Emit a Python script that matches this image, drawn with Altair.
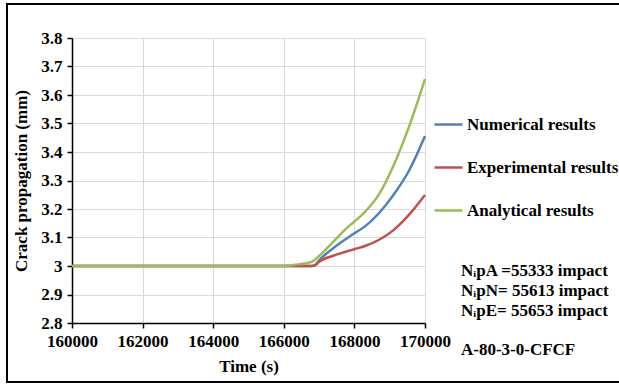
import altair as alt
import pandas as pd

time_s = [160000, 166000, 166300, 166800, 166880, 167000, 167400, 167730, 168000, 168300, 168700, 169100, 169550, 170000]
numerical = [3.0, 3.0, 3.0, 3.0, 3.003, 3.02, 3.062, 3.092, 3.115, 3.139, 3.186, 3.248, 3.335, 3.456]
experimental = [3.0, 3.0, 3.0, 3.0, 3.002, 3.015, 3.036, 3.049, 3.059, 3.07, 3.092, 3.125, 3.18, 3.249]
analytical = [3.0, 3.0, 3.004, 3.015, 3.022, 3.035, 3.085, 3.127, 3.156, 3.19, 3.252, 3.35, 3.49, 3.656]

series_names = ["Numerical results", "Experimental results", "Analytical results"]
series_colors = ["#4F81BD", "#C0504D", "#9BBB59"]

x_ticks = [160000, 162000, 164000, 166000, 168000, 170000]
y_ticks = [2.8, 2.9, 3.0, 3.1, 3.2, 3.3, 3.4, 3.5, 3.6, 3.7, 3.8]

notes = ["N\u1d62pA =55333 impact", "N\u1d62pN= 55613 impact", "N\u1d62pE= 55653 impact"]
specimen = "A-80-3-0-CFCF"

rows = []
for name, vals in zip(series_names, [numerical, experimental, analytical]):
    for t, v in zip(time_s, vals):
        rows.append({"Time": t, "Crack": v, "Series": name})
df = pd.DataFrame(rows)

FONT = "Liberation Serif, Times New Roman, DejaVu Serif, serif"

lines = alt.Chart(df).mark_line(strokeWidth=2.5, interpolate="monotone").encode(
    x=alt.X("Time:Q", scale=alt.Scale(domain=[160000, 170000], nice=False, zero=False),
            axis=alt.Axis(values=x_ticks, format="d", title="Time (s)", titlePadding=9,
                          labelOverlap=False, labelFlush=False)),
    y=alt.Y("Crack:Q", scale=alt.Scale(domain=[2.8, 3.8], nice=False, zero=False),
            axis=alt.Axis(values=y_ticks, format=".1~f", title="Crack propagation (mm)", titlePadding=10,
                          labelFlush=False)),
    color=alt.Color("Series:N", scale=alt.Scale(domain=series_names, range=series_colors),
                    sort=series_names,
                    legend=alt.Legend(orient="none", legendX=361, legendY=71, title=None,
                                      symbolType="stroke", symbolSize=784, symbolStrokeWidth=2.5,
                                      labelFont=FONT, labelFontWeight="bold", labelFontSize=17,
                                      labelColor="black", rowPadding=19, labelOffset=3,
                                      labelLimit=300)),
)

border = alt.Chart(pd.DataFrame({"a": [0]})).mark_rect(fill=None, stroke="black", strokeWidth=2).encode(
    x=alt.value(-65), x2=alt.value(560), y=alt.value(-34), y2=alt.value(344)
)

note_layers = []
note_y = [233, 253, 273]
for txt, yy in zip(notes, note_y):
    note_layers.append(
        alt.Chart(pd.DataFrame({"a": [0]})).mark_text(
            text=txt, font=FONT, fontWeight="bold", fontSize=17, align="left",
            baseline="middle", color="black"
        ).encode(x=alt.value(389), y=alt.value(yy))
    )
note_layers.append(
    alt.Chart(pd.DataFrame({"a": [0]})).mark_text(
        text=specimen, font=FONT, fontWeight="bold", fontSize=17, align="left",
        baseline="middle", color="black"
    ).encode(x=alt.value(389), y=alt.value(312))
)

chart = alt.layer(lines, border, *note_layers).properties(
    width=353, height=285,
    autosize=alt.AutoSizeParams(type="none"),
    padding={"left": 72, "top": 38, "right": 194, "bottom": 61},
    background="white",
).configure_view(stroke=None).configure_axis(
    labelFont=FONT, labelFontWeight="bold", labelFontSize=17, labelColor="black",
    titleFont=FONT, titleFontWeight="bold", titleFontSize=17, titleColor="black",
    domainColor="black", domainWidth=1.5, tickColor="black", tickWidth=1.5, tickSize=5,
    gridColor="#d9d9d9", gridWidth=1, labelPadding=5,
)

chart.save("out.html", embed_options={"renderer": "svg", "actions": False})
